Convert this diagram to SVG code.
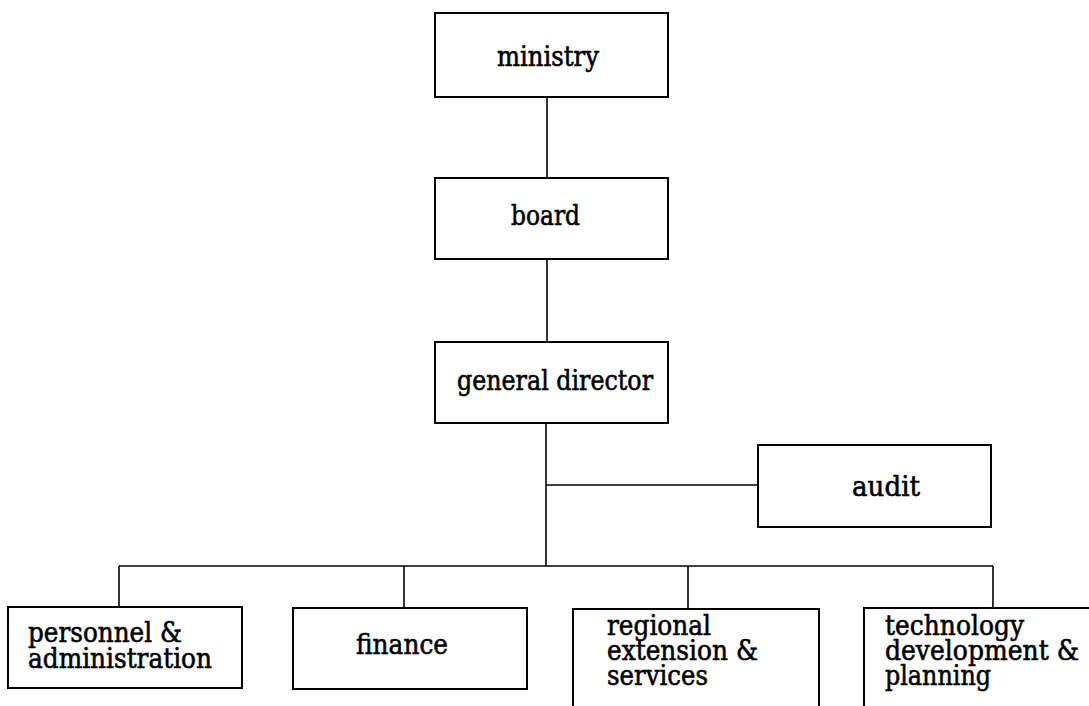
<svg xmlns="http://www.w3.org/2000/svg" width="1089" height="706" viewBox="0 0 1089 706">
  <style>
    .box { fill: #ffffff; stroke: #000000; stroke-width: 2; }
    .wire { fill: none; stroke: #000000; stroke-width: 1.6; }
    .lbl { font-family: "DejaVu Serif", "Liberation Serif", serif; font-size: 27px; fill: #000000; stroke: #000000; stroke-width: 0.6; }
  </style>
  <rect width="1089" height="706" fill="#ffffff"/>

  <!-- reporting lines -->
  <g id="connectors">
    <line class="wire" x1="547" y1="97" x2="547" y2="178"/>
    <line class="wire" x1="547" y1="259" x2="547" y2="342"/>
    <line class="wire" x1="546" y1="423" x2="546" y2="566"/>
    <line class="wire" x1="546" y1="485" x2="758" y2="485"/>
    <line class="wire" x1="119" y1="566" x2="993" y2="566"/>
    <line class="wire" x1="119" y1="566" x2="119" y2="607"/>
    <line class="wire" x1="404" y1="566" x2="404" y2="608"/>
    <line class="wire" x1="688" y1="566" x2="688" y2="609"/>
    <line class="wire" x1="993" y1="566" x2="993" y2="608"/>
  </g>

  <g id="ministry">
    <rect class="box" x="435" y="13" width="233" height="84"/>
    <text class="lbl" x="497" y="66" textLength="102" lengthAdjust="spacingAndGlyphs">ministry</text>
  </g>

  <g id="board">
    <rect class="box" x="435" y="178" width="233" height="81"/>
    <text class="lbl" x="511" y="225" textLength="69" lengthAdjust="spacingAndGlyphs">board</text>
  </g>

  <g id="general-director">
    <rect class="box" x="435" y="342" width="233" height="81"/>
    <text class="lbl" x="457" y="390" textLength="196" lengthAdjust="spacingAndGlyphs">general director</text>
  </g>

  <g id="audit">
    <rect class="box" x="758" y="445" width="233" height="82"/>
    <text class="lbl" x="852" y="496" textLength="68" lengthAdjust="spacingAndGlyphs">audit</text>
  </g>

  <g id="personnel-administration">
    <rect class="box" x="8" y="607" width="234" height="81"/>
    <text class="lbl" x="28" y="642" textLength="154" lengthAdjust="spacingAndGlyphs">personnel &amp;</text>
    <text class="lbl" x="28" y="668" textLength="184" lengthAdjust="spacingAndGlyphs">administration</text>
  </g>

  <g id="finance">
    <rect class="box" x="293" y="608" width="234" height="81"/>
    <text class="lbl" x="356" y="654" textLength="92" lengthAdjust="spacingAndGlyphs">finance</text>
  </g>

  <g id="regional-extension">
    <rect class="box" x="573" y="609" width="246" height="110"/>
    <text class="lbl" x="607" y="635" textLength="104" lengthAdjust="spacingAndGlyphs">regional</text>
    <text class="lbl" x="607" y="660" textLength="151" lengthAdjust="spacingAndGlyphs">extension &amp;</text>
    <text class="lbl" x="607" y="685" textLength="101" lengthAdjust="spacingAndGlyphs">services</text>
  </g>

  <g id="technology-development">
    <rect class="box" x="864" y="608" width="240" height="110"/>
    <text class="lbl" x="885" y="635" textLength="139" lengthAdjust="spacingAndGlyphs">technology</text>
    <text class="lbl" x="885" y="660" textLength="194" lengthAdjust="spacingAndGlyphs">development &amp;</text>
    <text class="lbl" x="885" y="685" textLength="106" lengthAdjust="spacingAndGlyphs">planning</text>
  </g>
</svg>
